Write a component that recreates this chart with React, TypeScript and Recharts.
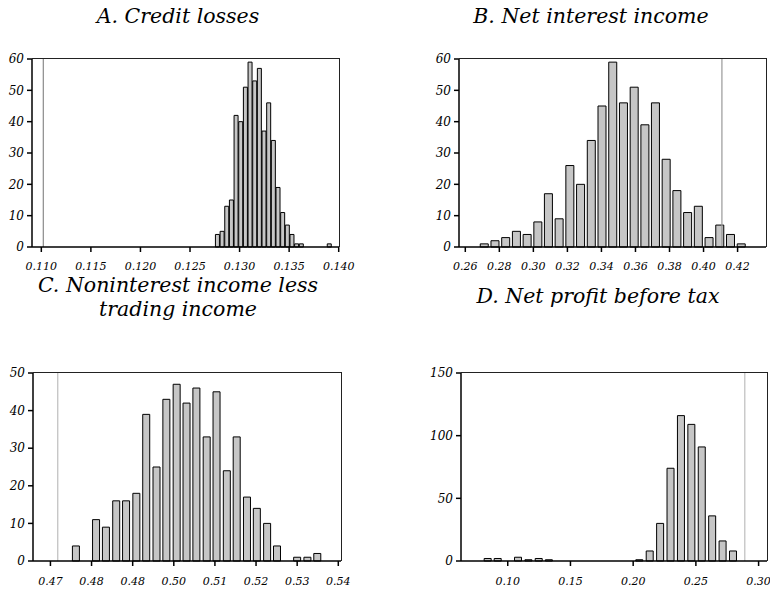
import { BarChart, Bar, XAxis, YAxis, ReferenceLine } from 'recharts';

// A. Credit losses — bin centres and counts
const creditBins = [
  0.1278, 0.12827, 0.12874, 0.12921, 0.12968, 0.13015, 0.13062, 0.13109, 0.13156, 0.13203,
  0.1325, 0.13297, 0.13344, 0.13391, 0.13438, 0.13485, 0.13532, 0.13579, 0.13626, 0.13908,
];
const creditCounts = [4, 5, 13, 15, 42, 40, 51, 59, 53, 57, 37, 46, 34, 19, 11, 7, 4, 1, 1, 1];
const creditTicks = [0.11, 0.115, 0.12, 0.125, 0.13, 0.135, 0.14];

// B. Net interest income
const nimBins = [
  0.2713, 0.2776, 0.2839, 0.2902, 0.2965, 0.3028, 0.309, 0.3153, 0.3216, 0.3279, 0.3342, 0.3405,
  0.3468, 0.3531, 0.3594, 0.3657, 0.3719, 0.3782, 0.3845, 0.3908, 0.3971, 0.4034, 0.4097, 0.416,
  0.4223,
];
const nimCounts = [1, 2, 3, 5, 4, 8, 17, 9, 26, 20, 34, 45, 59, 46, 51, 39, 46, 28, 18, 11, 13, 3, 7, 4, 1];
const nimTicks = [0.26, 0.28, 0.3, 0.32, 0.34, 0.36, 0.38, 0.4, 0.42];

// C. Noninterest income less trading income
const nonIntBins = [
  0.4763, 0.4787, 0.4812, 0.4836, 0.4861, 0.4885, 0.491, 0.4934, 0.4959, 0.4983, 0.5008, 0.5032,
  0.5056, 0.5081, 0.5105, 0.513, 0.5154, 0.5179, 0.5203, 0.5228, 0.5252, 0.5277, 0.5301, 0.5326,
  0.535,
];
const nonIntCounts = [4, 0, 11, 9, 16, 16, 18, 39, 25, 43, 47, 42, 46, 33, 45, 24, 33, 17, 14, 10, 4, 0, 1, 1, 2];
const nonIntTicks = [0.47, 0.48, 0.49, 0.5, 0.51, 0.52, 0.53, 0.54];
const nonIntTickLabels = ['0.47', '0.48', '0.48', '0.50', '0.51', '0.52', '0.53', '0.54'];

// D. Net profit before tax
const profitBins = [
  0.0836, 0.0916, 0.1078, 0.1161, 0.1243, 0.1324,
  0.2045, 0.2128, 0.2211, 0.2294, 0.2377, 0.246, 0.2543, 0.2626, 0.2709, 0.2792,
];
const profitCounts = [2, 2, 3, 1, 2, 1, 1, 8, 30, 74, 116, 109, 91, 36, 16, 8];
const profitTicks = [0.1, 0.15, 0.2, 0.25, 0.3];

const serif = "'DejaVu Serif', serif";
const xTickStyle = { fill: '#000', fontSize: 11, fontStyle: 'italic', fontFamily: serif };
const yTickStyle = { fill: '#000', fontSize: 12, fontStyle: 'italic', fontFamily: serif };
const MARGIN_BOTTOM = 3;

type PanelProps = {
  left: number;
  top: number;
  width: number;
  height: number;
  bins: number[];
  counts: number[];
  domain: [number, number];
  xTicks: number[];
  xFormat: (v: number, i: number) => string;
  yTicks: number[];
  refX: number;
  refColor: string;
  barSize: number;
  yWidth: number;
  marginTop: number;
  marginRight: number;
  xHeight: number;
  xTickMargin: number;
};

function Histogram(p: PanelProps) {
  const data = p.bins.map((x, i) => ({ x, n: p.counts[i] }));
  const yMax = p.yTicks[p.yTicks.length - 1];
  // plot box, used for the thin top/right frame lines
  const boxW = p.width - p.yWidth - p.marginRight;
  const boxH = p.height - p.marginTop - MARGIN_BOTTOM - p.xHeight;
  return (
    <div style={{ position: 'absolute', left: p.left, top: p.top, width: p.width, height: p.height }}>
      <BarChart
        width={p.width}
        height={p.height}
        data={data}
        margin={{ top: p.marginTop, right: p.marginRight, bottom: MARGIN_BOTTOM, left: 0 }}
      >
        <XAxis
          dataKey="x"
          type="number"
          domain={p.domain}
          allowDataOverflow
          ticks={p.xTicks}
          interval={0}
          tickFormatter={p.xFormat}
          height={p.xHeight}
          tickSize={5}
          tickMargin={p.xTickMargin}
          tick={xTickStyle}
          axisLine={{ stroke: '#000', strokeWidth: 1.5 }}
          tickLine={{ stroke: '#000', strokeWidth: 1.5 }}
        />
        <YAxis
          type="number"
          domain={[0, yMax]}
          ticks={p.yTicks}
          interval={0}
          width={p.yWidth}
          tickSize={5}
          tickMargin={3}
          tick={yTickStyle}
          axisLine={{ stroke: '#000', strokeWidth: 1.5 }}
          tickLine={{ stroke: '#000', strokeWidth: 1.5 }}
        />
        <ReferenceLine x={p.refX} stroke={p.refColor} strokeWidth={1.2} />
        <Bar
          dataKey="n"
          fill="#c6c6c6"
          stroke="#000"
          strokeWidth={1}
          barSize={p.barSize}
          isAnimationActive={false}
        />
      </BarChart>
      <div
        style={{
          position: 'absolute',
          zIndex: 5,
          left: p.yWidth,
          top: p.marginTop - 1,
          width: boxW + 1,
          height: boxH + 1,
          borderTop: '1.5px solid #222',
          borderRight: '1.5px solid #222',
          boxSizing: 'border-box',
          pointerEvents: 'none',
        }}
      />
    </div>
  );
}

const titleStyle = {
  position: 'absolute' as const,
  fontFamily: serif,
  fontStyle: 'italic',
  fontSize: 20.5,
  color: '#000',
  textAlign: 'center' as const,
  lineHeight: '24px',
  whiteSpace: 'nowrap' as const,
};

export default function App() {
  return (
    <div style={{ position: 'absolute', left: 0, top: 0, width: 770, height: 591, background: '#fff' }}>
      <div style={{ ...titleStyle, left: 28, width: 300, top: 4 }}>A. Credit losses</div>
      <div style={{ ...titleStyle, left: 441, width: 300, top: 4 }}>B. Net interest income</div>
      <div style={{ ...titleStyle, left: 28, width: 300, top: 273 }}>
        C. Noninterest income less
        <br />
        trading income
      </div>
      <div style={{ ...titleStyle, left: 448, width: 300, top: 284 }}>D. Net profit before tax</div>

      <Histogram
        left={0}
        top={50}
        width={362}
        height={230}
        bins={creditBins}
        counts={creditCounts}
        domain={[0.10906, 0.14003]}
        xTicks={creditTicks}
        xFormat={(v) => v.toFixed(3)}
        yTicks={[0, 10, 20, 30, 40, 50, 60]}
        refX={0.1102}
        refColor="#8a8a8a"
        barSize={4}
        yWidth={32}
        marginTop={9}
        marginRight={23}
        xHeight={30}
        xTickMargin={10}
      />
      <Histogram
        left={425}
        top={50}
        width={345}
        height={230}
        bins={nimBins}
        counts={nimCounts}
        domain={[0.2563, 0.4367]}
        xTicks={nimTicks}
        xFormat={(v) => v.toFixed(2)}
        yTicks={[0, 10, 20, 30, 40, 50, 60]}
        refX={0.4108}
        refColor="#999"
        barSize={8}
        yWidth={34}
        marginTop={9}
        marginRight={4}
        xHeight={30}
        xTickMargin={10}
      />
      <Histogram
        left={0}
        top={362}
        width={362}
        height={229}
        bins={nonIntBins}
        counts={nonIntCounts}
        domain={[0.46576, 0.54066]}
        xTicks={nonIntTicks}
        xFormat={(_v, i) => nonIntTickLabels[i]}
        yTicks={[0, 10, 20, 30, 40, 50]}
        refX={0.47178}
        refColor="#bdbdbd"
        barSize={7}
        yWidth={33}
        marginTop={11}
        marginRight={21}
        xHeight={27}
        xTickMargin={11}
      />
      <Histogram
        left={425}
        top={362}
        width={345}
        height={229}
        bins={profitBins}
        counts={profitCounts}
        domain={[0.06273, 0.3067]}
        xTicks={profitTicks}
        xFormat={(v) => v.toFixed(2)}
        yTicks={[0, 50, 100, 150]}
        refX={0.289}
        refColor="#bdbdbd"
        barSize={7}
        yWidth={36}
        marginTop={11}
        marginRight={3}
        xHeight={27}
        xTickMargin={11}
      />
    </div>
  );
}
